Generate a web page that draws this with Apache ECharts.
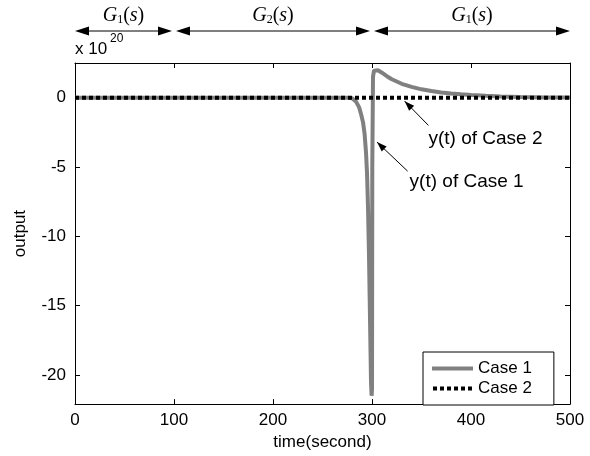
<!DOCTYPE html>
<html><head><meta charset="utf-8">
<script src="https://cdn.jsdelivr.net/npm/echarts@6/dist/echarts.min.js"></script>
<style>html,body{margin:0;padding:0;background:#fff}#c{width:590px;height:456px}</style>
</head><body><div id="c"></div>
<script>
// ---- data ----
const xTicks = [0, 100, 200, 300, 400, 500];
const yTicks = [-20, -15, -10, -5, 0];
const case1T = [0, 260, 275, 280, 284, 287, 289, 291, 292.5, 294, 295, 296, 297, 298, 299, 299.6, 300, 300.3, 301, 302, 303.5, 306, 310, 315, 320, 330, 340, 350, 360, 370, 380, 390, 400, 415, 430, 450, 475, 500];
const case1Y = [0, 0, -0.01, -0.05, -0.3, -0.7, -1.2, -1.8, -2.6, -4.0, -5.5, -8.0, -11.5, -16, -20.5, -21.5, -21.0, -5, 1.5, 1.95, 2.05, 1.98, 1.8, 1.55, 1.33, 1.0, 0.78, 0.6, 0.48, 0.38, 0.3, 0.24, 0.19, 0.13, 0.09, 0.05, 0.02, 0.01];
const case2T = [0, 500];
const case2Y = [0, 0];
const seriesNames = ['Case 1', 'Case 2'];
const segmentBounds = [0, 100, 300, 500];
const segmentSubs = ['1', '2', '1'];
// annotation anchors in data units: [headT, headY, tailT, tailY, textT, textY, label]
const notes = [
  [305, -3.2, 336, -5.3, 338, -6.1, 'y(t) of Case 1'],
  [333, -0.25, 357, -2.0, 357, -3.0, 'y(t) of Case 2']
];

const FONT = '"Liberation Sans", Arial, sans-serif';
const chart = echarts.init(document.getElementById('c'), null, {renderer: 'canvas'});
const zip = (a, b) => a.map((v, i) => [v, b[i]]);

const axisCommon = {
  axisLine: {show: true, onZero: false, lineStyle: {color: '#000', width: 1}},
  axisTick: {show: true, inside: true, length: 5, lineStyle: {color: '#000'}},
  splitLine: {show: false}
};
const YMIN = -22.1, YMAX = 2.5;
const solidIcon = 'path://M0,0H41V4H0Z';
const dotIcon = 'path://M0,0H4V4H0Z M7,0H11V4H7Z M14,0H18V4H14Z M21,0H25V4H21Z M28,0H32V4H28Z M35,0H39V4H35Z';

chart.setOption({
  animation: false,
  backgroundColor: '#fff',
  grid: {left: 75, right: 20, top: 63, bottom: 48},
  xAxis: [
    Object.assign({}, axisCommon, {
      type: 'value', min: 0, max: 500, interval: 100, position: 'bottom',
      name: 'time(second)', nameLocation: 'middle', nameGap: 24,
      nameTextStyle: {fontFamily: FONT, fontSize: 17, color: '#000'},
      axisLabel: {fontFamily: FONT, fontSize: 17, color: '#000', margin: 8}
    }),
    Object.assign({}, axisCommon, {
      type: 'value', min: 0, max: 500, interval: 100, position: 'top',
      axisLabel: {show: false}
    })
  ],
  yAxis: [
    Object.assign({}, axisCommon, {
      type: 'value', min: YMIN, max: YMAX, position: 'left',
      name: 'output', nameLocation: 'middle', nameGap: 46, nameRotate: 90,
      nameTextStyle: {fontFamily: FONT, fontSize: 17, color: '#000'},
      axisTick: Object.assign({}, axisCommon.axisTick, {customValues: yTicks}),
      axisLabel: {fontFamily: FONT, fontSize: 17, color: '#000', margin: 9, customValues: yTicks}
    }),
    Object.assign({}, axisCommon, {
      type: 'value', min: YMIN, max: YMAX, position: 'right',
      axisTick: Object.assign({}, axisCommon.axisTick, {customValues: yTicks}),
      axisLabel: {show: false, customValues: yTicks}
    })
  ],
  legend: {
    data: [{name: seriesNames[0], icon: solidIcon}, {name: seriesNames[1], icon: dotIcon}],
    orient: 'vertical', left: 423, top: 352,
    padding: [8, 22, 8, 9], itemGap: 3, itemWidth: 41, itemHeight: 4,
    backgroundColor: '#fff', borderColor: '#000', borderWidth: 1, borderRadius: 0,
    textStyle: {fontFamily: FONT, fontSize: 17, color: '#000', lineHeight: 17},
    itemStyle: {borderWidth: 0}
  },
  series: [
    {
      name: seriesNames[0], type: 'line', data: zip(case1T, case1Y),
      symbol: 'none', showSymbol: false, smooth: false,
      lineStyle: {color: '#808080', width: 4}, itemStyle: {color: '#808080'}, z: 2
    },
    {
      name: seriesNames[1], type: 'line', data: zip(case2T, case2Y),
      symbol: 'none', showSymbol: false,
      lineStyle: {color: '#000', width: 4, type: [4, 3]}, itemStyle: {color: '#000'}, z: 3
    }
  ]
});

// ---- annotations ----
function head(x, y, dx, dy, len, half) {
  const L = Math.hypot(dx, dy), ux = dx / L, uy = dy / L;
  const bx = x - ux * len, by = y - uy * len;
  return [[x, y], [bx - uy * half, by + ux * half], [bx + uy * half, by - ux * half]];
}
const g = [];
const px = t => chart.convertToPixel({xAxisIndex: 0}, t);
const py = v => chart.convertToPixel({yAxisIndex: 0}, v);
const arrowY = 31;
for (let i = 0; i < segmentSubs.length; i++) {
  const a = px(segmentBounds[i]) + (i === 0 ? 0 : 2);
  const b = px(segmentBounds[i + 1]) - (i === segmentSubs.length - 1 ? 0 : 2);
  g.push({type: 'line', shape: {x1: a + 6, y1: arrowY, x2: b - 6, y2: arrowY}, style: {stroke: '#000', lineWidth: 1}});
  g.push({type: 'polygon', shape: {points: head(a, arrowY, -1, 0, 14, 4.5)}, style: {fill: '#000'}});
  g.push({type: 'polygon', shape: {points: head(b, arrowY, 1, 0, 14, 4.5)}, style: {fill: '#000'}});
  g.push({
    type: 'text', x: (a + b) / 2, y: 16,
    style: {
      text: '{g|G}{s|' + segmentSubs[i] + '}{p|(}{i|s}{p|)}',
      align: 'center', verticalAlign: 'middle',
      rich: {
        g: {fontFamily: '"Liberation Serif", serif', fontStyle: 'italic', fontSize: 20, fill: '#000'},
        s: {fontFamily: '"Liberation Serif", serif', fontSize: 12, fill: '#000', verticalAlign: 'bottom', padding: [8, 0, 0, 0]},
        p: {fontFamily: '"Liberation Serif", serif', fontSize: 20, fill: '#000'},
        i: {fontFamily: '"Liberation Serif", serif', fontStyle: 'italic', fontSize: 20, fill: '#000'}
      }
    }
  });
}
// exponent label
g.push({type: 'text', x: 75, y: 58, style: {text: 'x 10', fontFamily: FONT, fontSize: 17, fill: '#000', verticalAlign: 'bottom'}});
g.push({type: 'text', x: 110, y: 45, style: {text: '20', fontFamily: FONT, fontSize: 12, fill: '#000', verticalAlign: 'bottom'}});
notes.forEach(n => {
  const hx = px(n[0]), hy = py(n[1]), tx = px(n[2]), ty = py(n[3]);
  g.push({type: 'line', shape: {x1: tx, y1: ty, x2: hx, y2: hy}, style: {stroke: '#000', lineWidth: 1}, z: 10});
  g.push({type: 'polygon', shape: {points: head(hx, hy, hx - tx, hy - ty, 10, 3.5)}, style: {fill: '#000'}, z: 10});
  g.push({type: 'text', x: px(n[4]), y: py(n[5]), style: {text: n[6], fontFamily: FONT, fontSize: 19, fill: '#000', verticalAlign: 'middle'}, z: 10});
});
chart.setOption({graphic: g});
</script>
</body></html>
